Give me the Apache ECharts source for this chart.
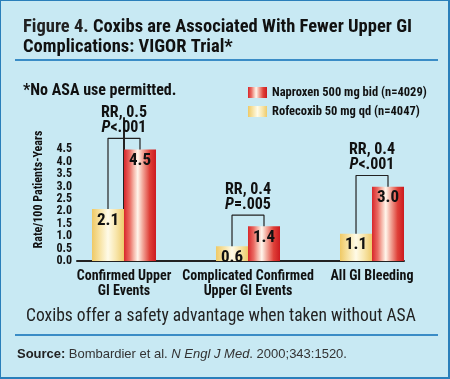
<!DOCTYPE html>
<html><head><meta charset="utf-8">
<script src="https://cdn.jsdelivr.net/npm/echarts@6/dist/echarts.min.js"></script>
<style>
html,body{margin:0;padding:0;background:#c8e9f3;}
#wrap{position:absolute;left:0;top:0;width:450px;height:379px;background:#c8e9f3;box-sizing:border-box;border-left:1px solid #2a7fba;border-top:1px solid #2a7fba;border-right:2px solid #2a7fba;border-bottom:2px solid #2a7fba;}
#main{position:absolute;left:0;top:0;width:450px;height:379px;}
</style></head>
<body><div id="wrap"></div><div id="main"></div>
<script>
// ---- data ----
const categories = ['Confirmed Upper\nGI Events', 'Complicated Confirmed\nUpper GI Events', 'All GI Bleeding'];
const naproxen = [4.5, 1.4, 3.0];
const rofecoxib = [2.1, 0.6, 1.1];
const rrText = ['RR, 0.5', 'RR, 0.4', 'RR, 0.4'];
const pText = ['<.001', '=.005', '<.001'];
const yTickMax = 4.5;
const yTickStep = 0.5;
const seriesNames = ['Naproxen 500 mg bid (n=4029)', 'Rofecoxib 50 mg qd (n=4047)'];

const NARROW = "'Roboto Condensed','DejaVu Sans Condensed',sans-serif";
const ARIAL = "'Liberation Sans',Arial,sans-serif";
const HALF = 0.129;       // half a bar width in category units
const BRACKET_GAP = 0.45; // bracket height above the taller bar

const redGrad = new echarts.graphic.LinearGradient(0,0,1,0,[
  {offset:0,color:'#d8262a'},{offset:0.18,color:'#ea6b63'},{offset:0.3,color:'#f5b3a6'},
  {offset:0.43,color:'#fff6ec'},{offset:0.58,color:'#f3aa9c'},{offset:0.8,color:'#df4038'},{offset:1,color:'#cc1a1f'}]);
const yelGrad = new echarts.graphic.LinearGradient(0,0,1,0,[
  {offset:0,color:'#efc965'},{offset:0.25,color:'#f7e3a4'},{offset:0.5,color:'#fffbe8'},
  {offset:0.75,color:'#f8e6ac'},{offset:1,color:'#eecb6c'}]);

const chart = echarts.init(document.getElementById('main'));

const brackets = naproxen.map((n, i) => {
  const top = Math.max(n, rofecoxib[i]) + BRACKET_GAP;
  return {
    type:'line', silent:true, symbol:'none', animation:false,
    lineStyle:{color:'#222', width:1.2},
    data:[[i-HALF, rofecoxib[i]], [i-HALF, top], [i+HALF, top], [i+HALF, n]]
  };
});
const txt = {fontFamily:NARROW,fontWeight:'bold',fontSize:16,color:'#111',lineHeight:15};
const annot = {
  type:'scatter', symbolSize:0, silent:true, animation:false,
  itemStyle:{opacity:1},
  data: naproxen.map((n,i)=>[i, Math.max(n, rofecoxib[i]) + BRACKET_GAP]),
  label:{show:true, position:'top', distance:3,
    formatter:p=>'{b|'+rrText[p.dataIndex]+'}\n{i|P}{b|'+pText[p.dataIndex]+'}',
    rich:{b:txt, i:Object.assign({}, txt, {fontStyle:'italic'})}}
};
const valLabel = {show:true, position:'insideTop', distance:3, formatter:p=>p.value[1].toFixed(1),
  fontFamily:NARROW,fontWeight:'bold',fontSize:17,color:'#111'};

chart.setOption({
  backgroundColor:'transparent',
  animation:false,
  title:{
    left:18, top:12,
    text:'{r|Figure 4. }{b|Coxibs are Associated With Fewer Upper GI}\n{b|Complications: VIGOR Trial*}',
    textStyle:{rich:{
      r:{fontFamily:NARROW,fontSize:18.5,color:'#222',lineHeight:20},
      b:{fontFamily:NARROW,fontSize:18.5,fontWeight:'bold',color:'#111',lineHeight:20}}}
  },
  legend:{
    orient:'vertical', left:243, top:81, itemWidth:19, itemHeight:11, itemGap:6,
    icon:'rect', data:seriesNames,
    textStyle:{fontFamily:NARROW,fontWeight:'bold',fontSize:12.5,color:'#111'}
  },
  grid:{left:77, right:46, top:118, bottom:118},
  xAxis:{
    type:'value', min:-0.379, max:2.258,
    axisLine:{show:true,onZero:false,lineStyle:{color:'#222',width:2}},
    axisTick:{show:false}, splitLine:{show:false},
    axisLabel:{customValues:[0,1,2], margin:8,
      formatter:v=>categories[Math.round(v)] || '',
      fontFamily:NARROW,fontWeight:'bold',fontSize:14,color:'#111',lineHeight:15}
  },
  yAxis:{
    type:'value', min:0, max:5.77, interval:yTickStep,
    name:'Rate/100 Patients-Years', nameLocation:'middle', nameGap:29,
    nameTextStyle:{fontFamily:NARROW,fontWeight:'bold',fontSize:12,color:'#111'},
    axisLine:{show:true,lineStyle:{color:'#222',width:2}},
    axisTick:{show:false}, splitLine:{show:false},
    axisLabel:{showMinLabel:true, margin:5, formatter:v=>(v>yTickMax+1e-6 ? '' : v.toFixed(1)),
      fontFamily:NARROW,fontWeight:'bold',fontSize:12,color:'#111'}
  },
  series:[
    {name:seriesNames[1], type:'bar', barWidth:32, barGap:'0%',
      itemStyle:{color:yelGrad}, data:rofecoxib.map((v,i)=>[i,v]), label:valLabel},
    {name:seriesNames[0], type:'bar', barWidth:32, barGap:'0%',
      itemStyle:{color:redGrad}, data:naproxen.map((v,i)=>[i,v]), label:valLabel},
    ...brackets, annot
  ],
  graphic:[
    {type:'line', shape:{x1:15,y1:60,x2:438,y2:60}, style:{stroke:'#3a8cc6',lineWidth:2}},
    {type:'line', shape:{x1:15,y1:335,x2:438,y2:335}, style:{stroke:'#3a8cc6',lineWidth:2}},
    {type:'text', left:23, top:83, style:{text:'*No ASA use permitted.', fontFamily:NARROW, fontWeight:'bold', fontSize:16, fill:'#111'}},
    {type:'text', left:26, top:308, style:{text:'Coxibs offer a safety advantage when taken without ASA', fontFamily:NARROW, fontSize:17.5, fill:'#222'}},
    {type:'text', left:17, top:348, style:{
      text:'{b|Source:} {r|Bombardier et al. }{i|N Engl J Med}{r|. 2000;343:1520.}',
      rich:{b:{fontFamily:ARIAL,fontWeight:'bold',fontSize:13,fill:'#222'},
            r:{fontFamily:ARIAL,fontSize:13,fill:'#333'},
            i:{fontFamily:ARIAL,fontStyle:'italic',fontSize:13,fill:'#333'}}}}
  ]
});
</script></body></html>
